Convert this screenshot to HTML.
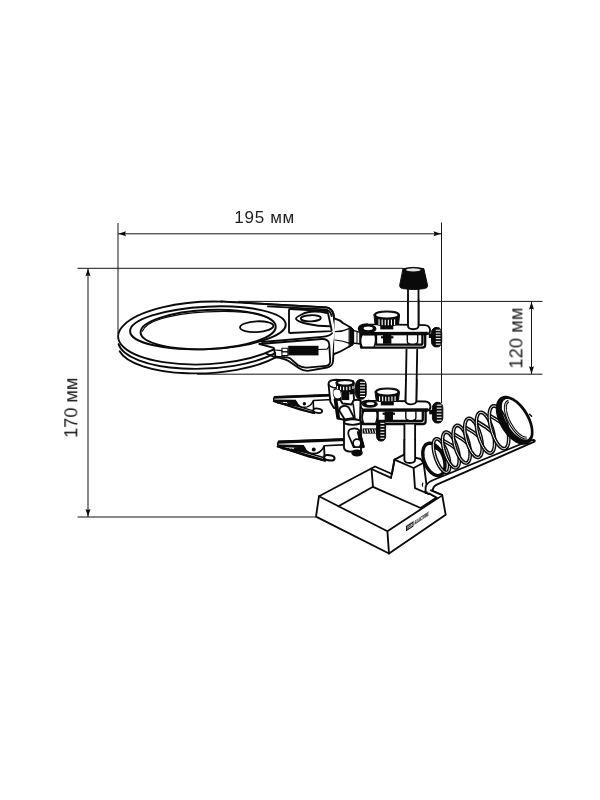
<!DOCTYPE html>
<html lang="ru"><head><meta charset="utf-8"><title>195 мм</title>
<style>
html,body{margin:0;padding:0;background:#fff;}
body{width:600px;height:800px;overflow:hidden;font-family:"Liberation Sans",sans-serif;}
svg{display:block}
</style></head><body>
<svg width="600" height="800" viewBox="0 0 600 800">
<defs><filter id="gray" x="-5%" y="-5%" width="110%" height="110%" color-interpolation-filters="sRGB"><feColorMatrix type="saturate" values="0"/></filter></defs>
<rect width="600" height="800" fill="#fff"/>
<g id="labels" filter="url(#gray)" font-family="Liberation Sans, sans-serif" font-size="17" fill="#1c1c1c">
<text x="234.3" y="223" textLength="60" lengthAdjust="spacing">195 мм</text>
<text font-size="18.3" transform="translate(77.3 437.9) rotate(-90)" textLength="60.4" lengthAdjust="spacing">170 мм</text>
<text font-size="18.3" transform="translate(522.4 368.6) rotate(-90)" textLength="61" lengthAdjust="spacing">120 мм</text>
</g>
<g id="drawing" fill="none" stroke="#0a0a0a" stroke-width="1.85" stroke-linecap="round" stroke-linejoin="round">
<path d="M222 301.6 L326.5 307.4 Q332.5 308.5 333.6 315 L335.8 330 L334 345 L333 361.5 Q332.5 366.5 327 367.5 L308 370.8 Q303 371 299.5 368.5 L289 361.2 Q284 358.4 275.6 357.4 L262 352 L240 340 Z" fill="#fff"/>
<ellipse cx="205" cy="333" rx="87" ry="31.3" transform="rotate(-2.6 205 333)" fill="#fff" stroke="none"/>
<path d="M221 301.5 L326.5 307.4 Q332.5 308.5 333.6 315 L335.8 330"/>
<path d="M268 306.3 L325 309.4 Q330.5 310.3 331.6 316"/>
<path d="M334.6 318.5 Q340 320 343.3 323.3 L350.8 327.5 Q352.5 329 352.5 330.8 L352.5 343.3 Q352.3 345 350.8 345.8 L343 350 Q339 352.5 334 354" fill="#fff"/>
<path d="M335.5 331.7 Q343 331.5 349 328.6 M335 340 Q343 340.5 350.5 343.6" stroke-width="1.2"/>
<path d="M349.4 326.6 L353.4 329.2 L353.4 344.4 L349.4 346.8 Z" fill="#0a0a0a" stroke-width="1"/>
<path d="M290 309 L326.5 311 Q327.6 311.1 327.8 312.2 L331.6 330 Q331.8 331 330.8 331.1 L290 333 Q289 333 289 332 L289 310 Q289 309 290 309 Z" fill="#fff"/>
<path d="M327.2 313 Q311 309.5 302 314.2 Q295.5 317.5 296 318.8 Q297 321.5 308 324 Q318 326.3 330.4 326.2"/>
<ellipse cx="310.8" cy="318.3" rx="10" ry="3.1" transform="rotate(-2 310.8 318.3)" fill="none"/>
<path d="M262 342 L322 336.8 Q330.5 336.3 332 333.2"/>
<path d="M259.5 344 L321.5 339 Q328.6 338.8 329.2 344 L330.2 361 Q330.2 365.5 326.2 365.9 L307 367.6 Q301.5 367.8 298 365.3 L290.5 358.6 Q288.5 357.2 285 357.2 L275.6 356.6"/>
<rect x="288.2" y="345.8" width="30.3" height="9.6" fill="#0a0a0a" stroke="none"/>
<rect x="281.9" y="348.2" width="6" height="3.7" stroke-width="1.1" fill="#fff"/><rect x="281.9" y="351.9" width="6" height="3.7" stroke-width="1.1" fill="#fff"/>
<path d="M318.5 349.5 L327 349.2 L329.5 346" stroke-width="1.2"/>
<path d="M275 350 L281.9 350.6" stroke-width="1.2"/>
<path d="M119.66 351.22 A87 31.3 -2.6 0 0 276.15 357.09"/>
<path d="M118.54 344.06 A87 31.3 -2.6 0 0 275.26 353.07"/>
<path d="M221.68 301.59 A87 31.3 -2.6 1 0 273.90 349.38"/>
<path d="M259.5 344 L273.8 347.9 L275.6 357.2" />
<ellipse cx="207.9" cy="327.85" rx="77.9" ry="21.2" transform="rotate(-2.6 207.9 327.85)" fill="#fff" stroke-width="2.0"/>
<ellipse cx="208.15" cy="329.5" rx="67.65" ry="19.5" transform="rotate(-2.6 208.15 329.5)" fill="#fff" stroke-width="2.0"/>
<path d="M142.3 331.2 Q149 315.6 206 311.9 Q263 309.2 274 322.6" stroke-width="1.2"/>
<ellipse cx="256.7" cy="326.7" rx="16.7" ry="5.4" transform="rotate(-3 256.7 326.7)" fill="none"/>
<path d="M408 286 L408 326.05 Q408 329.2 413.25 329.2 Q418.5 329.2 418.5 326.05 L418.5 286" fill="#fff"/>
<path d="M403.3 268.6 Q413.3 266 423.8 268.6 L427.6 285.5 Q427.8 288 424.5 288.6 Q413.5 290.6 402.5 288.6 Q399.4 288 399.7 285.5 Z" fill="#0a0a0a" stroke-width="1"/>
<ellipse cx="413.3" cy="269.9" rx="7.3" ry="1.55" fill="#e4e4e4" stroke="none"/>
<path d="M353.4 330.4 L360 332.4 L360 344 L353.4 343 Z" fill="#fff" stroke-width="1.5"/>
<path d="M357 331.6 L357 343.4" stroke-width="1"/>
<g transform="translate(0 0)">
<rect x="428.8" y="333.5" width="4" height="4.4" fill="#0a0a0a" stroke="none"/>
<rect x="431.5" y="327.5" width="10.2" height="19.4" rx="4.28" ry="5.10" fill="#0a0a0a" stroke="#0a0a0a" stroke-width="1"/>
<line x1="435.78" y1="330.25" x2="440.50" y2="330.25" stroke="#fff" stroke-width="1.05" stroke-linecap="butt"/>
<line x1="435.78" y1="333.03" x2="440.50" y2="333.03" stroke="#fff" stroke-width="1.05" stroke-linecap="butt"/>
<line x1="435.78" y1="335.81" x2="440.50" y2="335.81" stroke="#fff" stroke-width="1.05" stroke-linecap="butt"/>
<line x1="435.78" y1="338.59" x2="440.50" y2="338.59" stroke="#fff" stroke-width="1.05" stroke-linecap="butt"/>
<line x1="435.78" y1="341.37" x2="440.50" y2="341.37" stroke="#fff" stroke-width="1.05" stroke-linecap="butt"/>
<line x1="435.78" y1="344.15" x2="440.50" y2="344.15" stroke="#fff" stroke-width="1.05" stroke-linecap="butt"/>
<path d="M361 347.6 L422.3 347.6 Q425.2 347.6 425.2 345 L425.2 334 L422.40000000000003 334 L422.40000000000003 343.2 Q422.40000000000003 344.6 420.8 344.6 L376 344.6 L376 334 L361 334 Z" fill="#fff" stroke-width="2.3"/>
<path d="M362.2 334.5 Q359 341 362.2 347.2 L374 347.2 Q376.6 341 375 334.5 Z" fill="#fff" stroke-width="1.5"/>
<path d="M407.3 334.5 L407.3 341.4 Q407.3 344.2 412.5 344.2 Q417.7 344.2 417.7 341.4 L417.7 334.5" fill="#fff" stroke-width="1.4"/>
<rect x="383" y="335" width="8.4" height="8.8" fill="#0a0a0a" stroke="none"/>
<rect x="381" y="336.2" width="12.4" height="2.2" fill="#0a0a0a" stroke="none"/>
<path d="M360.3 325.8 Q357.6 328.2 359.6 331.2 Q361 333.6 364 334.2 L426.8 334.2 Q430.40000000000003 333.4 430.0 329.6 Q429.40000000000003 325.4 424.8 325.1 L368 324.2 Q363 324 360.3 325.8 Z" fill="#fff"/>
<path d="M361.5 333.6 L427.8 333.4" stroke-width="3.2" stroke-linecap="butt"/>
<ellipse cx="367.6" cy="328.7" rx="8.9" ry="4.6" fill="#0a0a0a" stroke="none"/>
<ellipse cx="368.20000000000005" cy="328.3" rx="4.6" ry="1.9" fill="#fff" stroke="none"/>
</g>
<path d="M408 300 L408 326.05 Q408 329.2 413.25 329.2 Q418.5 329.2 418.5 326.05 L418.5 300" fill="#fff"/>
<path d="M374.0 314.9 L375.0 323.9 Q386.8 329.0 398.6 323.9 L399.6 314.9 Q399.6 311.0 386.8 311.0 Q374.0 311.0 374.0 314.9 Z" fill="#0a0a0a" stroke-width="1"/>
<ellipse cx="386.8" cy="314.9" rx="10.799999999999999" ry="2.5" fill="#fff" stroke="none"/>
<line x1="379.05" y1="319.37" x2="379.05" y2="325.15" stroke="#fff" stroke-width="1.15" stroke-linecap="butt"/>
<line x1="382.15" y1="319.62" x2="382.15" y2="325.57" stroke="#fff" stroke-width="1.15" stroke-linecap="butt"/>
<line x1="385.25" y1="319.74" x2="385.25" y2="325.77" stroke="#fff" stroke-width="1.15" stroke-linecap="butt"/>
<line x1="388.35" y1="319.74" x2="388.35" y2="325.77" stroke="#fff" stroke-width="1.15" stroke-linecap="butt"/>
<line x1="391.45" y1="319.62" x2="391.45" y2="325.57" stroke="#fff" stroke-width="1.15" stroke-linecap="butt"/>
<line x1="394.55" y1="319.37" x2="394.55" y2="325.15" stroke="#fff" stroke-width="1.15" stroke-linecap="butt"/>
<rect x="380.3" y="325.4" width="13" height="4" fill="#0a0a0a" stroke="none"/>
<path d="M406.5 349.6 L405.6 401.09 Q405.6 404.3 410.95 404.3 Q416.3 404.3 416.3 401.09 L417.2 349.6" fill="#fff"/>
<g transform="translate(1.6 76.4)">
<rect x="427.6" y="333.5" width="4" height="4.4" fill="#0a0a0a" stroke="none"/>
<rect x="430.8" y="326" width="10.4" height="20.6" rx="4.37" ry="5.20" fill="#0a0a0a" stroke="#0a0a0a" stroke-width="1"/>
<line x1="435.17" y1="328.75" x2="440.00" y2="328.75" stroke="#fff" stroke-width="1.05" stroke-linecap="butt"/>
<line x1="435.17" y1="331.77" x2="440.00" y2="331.77" stroke="#fff" stroke-width="1.05" stroke-linecap="butt"/>
<line x1="435.17" y1="334.79" x2="440.00" y2="334.79" stroke="#fff" stroke-width="1.05" stroke-linecap="butt"/>
<line x1="435.17" y1="337.81" x2="440.00" y2="337.81" stroke="#fff" stroke-width="1.05" stroke-linecap="butt"/>
<line x1="435.17" y1="340.83" x2="440.00" y2="340.83" stroke="#fff" stroke-width="1.05" stroke-linecap="butt"/>
<line x1="435.17" y1="343.85" x2="440.00" y2="343.85" stroke="#fff" stroke-width="1.05" stroke-linecap="butt"/>
<path d="M361 347.6 L421.1 347.6 Q424.0 347.6 424.0 345 L424.0 334 L421.20000000000005 334 L421.20000000000005 343.2 Q421.20000000000005 344.6 419.6 344.6 L376 344.6 L376 334 L361 334 Z" fill="#fff" stroke-width="2.3"/>
<path d="M362.2 334.5 Q359 341 362.2 347.2 L374 347.2 Q376.6 341 375 334.5 Z" fill="#fff" stroke-width="1.5"/>
<path d="M404.2 334.5 L404.2 341.4 Q404.2 344.2 409.25 344.2 Q414.3 344.2 414.3 341.4 L414.3 334.5" fill="#fff" stroke-width="1.4"/>
<rect x="383" y="335" width="8.4" height="8.8" fill="#0a0a0a" stroke="none"/>
<rect x="381" y="336.2" width="12.4" height="2.2" fill="#0a0a0a" stroke="none"/>
<path d="M360.3 325.8 Q357.6 328.2 359.6 331.2 Q361 333.6 364 334.2 L425.6 334.2 Q429.20000000000005 333.4 428.8 329.6 Q428.20000000000005 325.4 423.6 325.1 L368 324.2 Q363 324 360.3 325.8 Z" fill="#fff"/>
<path d="M361.5 333.6 L426.6 333.4" stroke-width="3.2" stroke-linecap="butt"/>
<ellipse cx="368.2" cy="327.7" rx="8.0" ry="3.6" fill="#0a0a0a" stroke="none"/>
<ellipse cx="368.8" cy="327.3" rx="4.0" ry="1.4" fill="#fff" stroke="none"/>
</g>
<path d="M406.0 380 L405.6 401.09 Q405.6 404.3 410.95 404.3 Q416.3 404.3 416.3 401.09 L416.7 380" fill="#fff"/>
<path d="M375.09999999999997 391.9 L376.09999999999997 399.9 Q387.3 405.0 398.50000000000006 399.9 L399.50000000000006 391.9 Q399.50000000000006 388.0 387.3 388.0 Q375.09999999999997 388.0 375.09999999999997 391.9 Z" fill="#0a0a0a" stroke-width="1"/>
<ellipse cx="387.3" cy="391.9" rx="10.2" ry="2.5" fill="#fff" stroke="none"/>
<line x1="379.55" y1="396.33" x2="379.55" y2="401.09" stroke="#fff" stroke-width="1.15" stroke-linecap="butt"/>
<line x1="382.65" y1="396.61" x2="382.65" y2="401.54" stroke="#fff" stroke-width="1.15" stroke-linecap="butt"/>
<line x1="385.75" y1="396.74" x2="385.75" y2="401.77" stroke="#fff" stroke-width="1.15" stroke-linecap="butt"/>
<line x1="388.85" y1="396.74" x2="388.85" y2="401.77" stroke="#fff" stroke-width="1.15" stroke-linecap="butt"/>
<line x1="391.95" y1="396.61" x2="391.95" y2="401.54" stroke="#fff" stroke-width="1.15" stroke-linecap="butt"/>
<line x1="395.05" y1="396.33" x2="395.05" y2="401.09" stroke="#fff" stroke-width="1.15" stroke-linecap="butt"/>
<rect x="380.8" y="401.4" width="13" height="4" fill="#0a0a0a" stroke="none"/>
<path d="M404.4 424.4 L404.4 459.79 Q404.4 463 409.75 463 Q415.1 463 415.1 459.79 L415.1 424.4" fill="#fff"/>
<g>
<path d="M273.7 401.2 L280 402.9 L296.4 405.9 L312.6 410.6 L314.2 413.2 L300 409.8 Z" fill="#fff" stroke-width="1.4"/>
<path d="M273.7 401.2 L314.2 413.2" stroke-width="1.9"/>
<path d="M276.5 402.1 L278 403.3 L279.5 402.5 L281 403.8 L282.5 403 L284 404.2 L285.5 403.4 L287 404.6 L288.5 403.8" stroke-width="1.3"/>
<path d="M287.6 402.4 L296.2 401.6 Q297 404 298.8 406.2 L290 404.6 Z" fill="#0a0a0a" stroke-width="1"/>
<ellipse cx="317.7" cy="410.8" rx="4.5" ry="2.2" transform="rotate(8 317.7 410.8)" fill="#fff" stroke-width="1.8"/>
<path d="M313.2 400.9 L313.6 409.3" stroke-width="1.6"/>
<path d="M274.4 396.9 L333 394.8 L333 399.5 L313.3 400.5 Q311.6 405.3 307.2 406.8 Q303.6 407.8 300.2 406.3 Q297 404.4 296 401.3 L274.4 401 Q272.8 399 274.4 396.9 Z" fill="#fff" stroke-width="1.4"/>
<path d="M274 397.4 L333 395.2" stroke-width="2.7" stroke-linecap="butt"/>
<path d="M274.2 400.5 L296 400.9" stroke-width="2.1" stroke-linecap="butt"/>
<circle cx="304.4" cy="403.7" r="1.7" fill="#0a0a0a" stroke="none"/>
</g>
<g transform="translate(277.3 443.75) scale(1.17) translate(-273.25 -398.8)">
<path d="M273.7 401.2 L280 402.9 L296.4 405.9 L312.6 410.6 L314.2 413.2 L300 409.8 Z" fill="#fff" stroke-width="1.4"/>
<path d="M273.7 401.2 L314.2 413.2" stroke-width="1.9"/>
<path d="M276.5 402.1 L278 403.3 L279.5 402.5 L281 403.8 L282.5 403 L284 404.2 L285.5 403.4 L287 404.6 L288.5 403.8" stroke-width="1.3"/>
<path d="M287.6 402.4 L296.2 401.6 Q297 404 298.8 406.2 L290 404.6 Z" fill="#0a0a0a" stroke-width="1"/>
<ellipse cx="317.7" cy="410.8" rx="4.5" ry="2.2" transform="rotate(8 317.7 410.8)" fill="#fff" stroke-width="1.8"/>
<path d="M313.2 400.9 L313.6 409.3" stroke-width="1.6"/>
<path d="M274.4 396.9 L333 394.8 L333 399.5 L313.3 400.5 Q311.6 405.3 307.2 406.8 Q303.6 407.8 300.2 406.3 Q297 404.4 296 401.3 L274.4 401 Q272.8 399 274.4 396.9 Z" fill="#fff" stroke-width="1.4"/>
<path d="M274 397.4 L333 395.2" stroke-width="2.7" stroke-linecap="butt"/>
<path d="M274.2 400.5 L296 400.9" stroke-width="2.1" stroke-linecap="butt"/>
<circle cx="304.4" cy="403.7" r="1.7" fill="#0a0a0a" stroke="none"/>
</g>
<path d="M328.5 384 Q328.3 380 336 379.7 L353 381 L354 400 L352 407 L334 408 L330.4 402 Z" fill="#fff" stroke-width="1.9"/>
<path d="M328.6 384.5 Q331 388 337 388" stroke-width="1.4"/>
<path d="M336 388 L354.5 388 L354.8 394 L349.5 394.6 L349.5 392 L341.5 392 L341.5 400 Q338 402 334.6 399 Q331.8 394 333.4 389.6 Z" fill="#0a0a0a" stroke="none"/>
<path d="M333.6 390.8 Q336.5 388.6 340.2 390.4 L341.2 396.4 Q339 399.4 335.6 398 Q332.6 394.6 333.6 390.8 Z" fill="#fff" stroke="none"/>
<rect x="341.6" y="390.5" width="7.6" height="9.6" fill="#0a0a0a" stroke="none"/>
<path d="M334.6 399.5 Q336 409 337.4 418.6 L343 419.4 L345 421 L360 421.6 L360.6 400.6 Q357 399 353.6 400.4 L351.6 404.4 L342.5 403.6 L340.4 400 Z" fill="#fff" stroke-width="2"/>
<path d="M336.2 400 L338.8 418" stroke-width="2.6"/>
<path d="M353.2 404 L355 419" stroke-width="1.6"/>
<path d="M339.6 411.2 Q339 406.6 343.6 406 Q348 405.6 349.4 408.6 L354.2 418 L344.8 419.4 Z" fill="#fff" stroke-width="1.8"/>
<rect x="355.6" y="379.6" width="10.6" height="19.6" rx="4.45" ry="5.30" fill="#0a0a0a" stroke="#0a0a0a" stroke-width="1"/>
<line x1="360.05" y1="382.35" x2="365.00" y2="382.35" stroke="#fff" stroke-width="1.05" stroke-linecap="butt"/>
<line x1="360.05" y1="385.17" x2="365.00" y2="385.17" stroke="#fff" stroke-width="1.05" stroke-linecap="butt"/>
<line x1="360.05" y1="387.99" x2="365.00" y2="387.99" stroke="#fff" stroke-width="1.05" stroke-linecap="butt"/>
<line x1="360.05" y1="390.81" x2="365.00" y2="390.81" stroke="#fff" stroke-width="1.05" stroke-linecap="butt"/>
<line x1="360.05" y1="393.63" x2="365.00" y2="393.63" stroke="#fff" stroke-width="1.05" stroke-linecap="butt"/>
<line x1="360.05" y1="396.45" x2="365.00" y2="396.45" stroke="#fff" stroke-width="1.05" stroke-linecap="butt"/>
<path d="M335.99999999999994 382.7 L336.99999999999994 388.5 Q345.2 393.6 353.40000000000003 388.5 L354.40000000000003 382.7 Q354.40000000000003 379.6 345.2 379.6 Q335.99999999999994 379.6 335.99999999999994 382.7 Z" fill="#0a0a0a" stroke-width="1"/>
<ellipse cx="345.2" cy="382.7" rx="7.199999999999999" ry="1.7000000000000002" fill="#fff" stroke="none"/>
<line x1="337.45" y1="385.98" x2="337.45" y2="389.10" stroke="#fff" stroke-width="1.15" stroke-linecap="butt"/>
<line x1="340.55" y1="386.48" x2="340.55" y2="389.93" stroke="#fff" stroke-width="1.15" stroke-linecap="butt"/>
<line x1="343.65" y1="386.73" x2="343.65" y2="390.35" stroke="#fff" stroke-width="1.15" stroke-linecap="butt"/>
<line x1="346.75" y1="386.73" x2="346.75" y2="390.35" stroke="#fff" stroke-width="1.15" stroke-linecap="butt"/>
<line x1="349.85" y1="386.48" x2="349.85" y2="389.93" stroke="#fff" stroke-width="1.15" stroke-linecap="butt"/>
<line x1="352.95" y1="385.98" x2="352.95" y2="389.10" stroke="#fff" stroke-width="1.15" stroke-linecap="butt"/>
<rect x="362.6" y="428.4" width="14.4" height="5.2" fill="#0a0a0a" stroke="none"/>
<line x1="364.4" y1="429.3" x2="365.3" y2="432.9" stroke="#fff" stroke-width="1" stroke-linecap="butt"/>
<line x1="367.0" y1="429.3" x2="367.9" y2="432.9" stroke="#fff" stroke-width="1" stroke-linecap="butt"/>
<line x1="369.6" y1="429.3" x2="370.5" y2="432.9" stroke="#fff" stroke-width="1" stroke-linecap="butt"/>
<line x1="372.2" y1="429.3" x2="373.1" y2="432.9" stroke="#fff" stroke-width="1" stroke-linecap="butt"/>
<line x1="374.8" y1="429.3" x2="375.7" y2="432.9" stroke="#fff" stroke-width="1" stroke-linecap="butt"/>
<rect x="376.6" y="420.6" width="9" height="20.4" rx="3.78" ry="4.50" fill="#0a0a0a" stroke="#0a0a0a" stroke-width="1"/>
<line x1="380.38" y1="423.35" x2="384.40" y2="423.35" stroke="#fff" stroke-width="1.05" stroke-linecap="butt"/>
<line x1="380.38" y1="426.33" x2="384.40" y2="426.33" stroke="#fff" stroke-width="1.05" stroke-linecap="butt"/>
<line x1="380.38" y1="429.31" x2="384.40" y2="429.31" stroke="#fff" stroke-width="1.05" stroke-linecap="butt"/>
<line x1="380.38" y1="432.29" x2="384.40" y2="432.29" stroke="#fff" stroke-width="1.05" stroke-linecap="butt"/>
<line x1="380.38" y1="435.27" x2="384.40" y2="435.27" stroke="#fff" stroke-width="1.05" stroke-linecap="butt"/>
<line x1="380.38" y1="438.25" x2="384.40" y2="438.25" stroke="#fff" stroke-width="1.05" stroke-linecap="butt"/>
<path d="M344 422 L344 448 Q344.6 451.2 350 451.6 L361 451 L361 422 Z" fill="#fff"/>
<ellipse cx="352.5" cy="422" rx="8.5" ry="2.8" fill="#fff"/>
<ellipse cx="357" cy="453" rx="5.8" ry="3.4" fill="#0a0a0a" stroke="none"/>
<path d="M348.6 435.4 Q347.2 430 351.6 428.8 Q356.6 427.6 359.6 430.4 L364 447 L353.6 447.2 Z" fill="#fff" stroke-width="1.7"/>
<path d="M359.8 430.6 L364 447 L361 448.4 L357.4 432 Z" fill="#0a0a0a" stroke-width="1"/>
<circle cx="357" cy="443.2" r="4" fill="#fff" stroke-width="1.8"/>
<path d="M319 496.2 L375 466.5 L392 474 L394.5 459.6 L404 454.6 L420.5 459 L423.6 462.8 L426.4 484 L431 490.3 L442.2 495.2 L445.7 514.8 L389 553.5 L316 516.7 Z" fill="#fff"/>
<path d="M394.5 459.6 L413.6 468 L423.6 462.8" />
<path d="M413.6 468 L415 488.2 L428.6 494"/>
<path d="M391 477.8 L394.5 459.6"/>
<path d="M371.5 469 L391 477.8"/>
<path d="M371.5 469 L373 486.8 M338.5 506.2 L373 486.8 L420.6 508 L436.5 497.5 L429.3 493.5"/>
<path d="M319 496.2 L387.4 531.2 L442.2 495.2 M387.4 531.2 L389 553.5"/>
<path d="M422.9 483.2 Q421.8 484.6 422.6 486.2" stroke-width="1.2"/>
<path d="M404.4 440 L404.4 459.79 Q404.4 463 409.75 463 Q415.1 463 415.1 459.79 L415.1 440" fill="#fff"/>
<g transform="matrix(0.8355 -0.5494 0 1 406 531.4)" stroke="none" filter="url(#gray)">
<rect x="0" y="-5.4" width="9.2" height="5.4" fill="#0a0a0a"/>
<text x="4.6" y="-1.1" font-family="Liberation Sans, sans-serif" font-weight="700" font-style="italic" font-size="4.3" fill="#fff" text-anchor="middle" textLength="7.6" lengthAdjust="spacingAndGlyphs">TDM</text>
<text x="10.4" y="-0.6" font-family="Liberation Sans, sans-serif" font-weight="700" font-style="italic" font-size="5.5" fill="#0a0a0a" stroke="#0a0a0a" stroke-width="0.25" textLength="16.8" lengthAdjust="spacingAndGlyphs">ELECTRIC</text>
</g>
<path d="M425.6 493 L425.6 488 Q425.6 483.2 433.3 480 L520 444.5 Q530 440.2 533.6 439.9 Q535.6 440.6 534.4 441.7 L437.3 484.4 Q432.7 486.4 432.7 491 Z" fill="#fff"/>
<path d="M424.6 492.6 L431 490.3 L442.2 495.2 L436.5 497.5 L429.3 493.5 Z" fill="#fff" stroke="none"/>
<path d="M431 490.3 L442.2 495.2 M436.5 497.5 L429.3 493.5 M425 491.5 L428.6 494"/>
<path d="M440.27 475.16 L441.40 474.55 L442.40 473.67 L443.26 472.56 L443.96 471.21 L444.48 469.67 L444.83 467.95 L444.99 466.08 L444.95 464.10 L444.73 462.04 L444.33 459.93 L443.74 457.82 L442.99 455.73 L442.08 453.70 L441.03 451.77 L439.86 449.98 L438.58 448.34 L437.23 446.89 L435.82 445.66 L434.38 444.66 L432.93 443.91 L431.49 443.43 L430.10 443.22 L428.77 443.29 L427.53 443.64 L426.40 444.25 L425.40 445.13 L424.54 446.24 L423.84 447.59 L423.32 449.13 L422.97 450.85 L422.81 452.72 L422.85 454.70 L423.07 456.76 L423.47 458.87 L424.06 460.98 L424.81 463.07 L425.72 465.10 L426.77 467.03 L427.94 468.82 L429.22 470.46 L430.57 471.91 L431.98 473.14 L433.42 474.14 L434.87 474.89 L436.31 475.37 L437.70 475.58 L439.03 475.51 L440.27 475.16 Z" stroke-width="3.4"/>
<path d="M433.74 446.69 Q442.19 450.73 448.03 455.64" stroke-width="3.2"/>
<path d="M447.08 472.29 L447.82 471.89 L448.44 471.20 L448.95 470.26 L449.32 469.05 L449.57 467.62 L449.67 465.99 L449.64 464.17 L449.47 462.21 L449.16 460.14 L448.72 457.99 L448.15 455.80 L447.47 453.60 L446.69 451.44 L445.83 449.35 L444.88 447.37 L443.88 445.52 L442.84 443.85 L441.78 442.38 L440.71 441.14 L439.65 440.15 L438.63 439.42 L437.65 438.96 L436.74 438.79 L435.92 438.91 L435.18 439.31 L434.56 440.00 L434.05 440.94 L433.68 442.15 L433.43 443.58 L433.33 445.21 L433.36 447.03 L433.53 448.99 L433.84 451.06 L434.28 453.21 L434.85 455.40 L435.53 457.60 L436.31 459.76 L437.17 461.85 L438.12 463.83 L439.12 465.68 L440.16 467.35 L441.22 468.82 L442.29 470.06 L443.35 471.05 L444.37 471.78 L445.35 472.24 L446.26 472.41 L447.08 472.29 Z" stroke-width="3.75" stroke-linecap="butt"/>
<path d="M447.08 472.29 L447.82 471.89 L448.44 471.20 L448.95 470.26 L449.32 469.05 L449.57 467.62 L449.67 465.99 L449.64 464.17 L449.47 462.21 L449.16 460.14 L448.72 457.99 L448.15 455.80 L447.47 453.60 L446.69 451.44 L445.83 449.35 L444.88 447.37 L443.88 445.52 L442.84 443.85 L441.78 442.38 L440.71 441.14 L439.65 440.15 L438.63 439.42 L437.65 438.96 L436.74 438.79 L435.92 438.91 L435.18 439.31 L434.56 440.00 L434.05 440.94 L433.68 442.15 L433.43 443.58 L433.33 445.21 L433.36 447.03 L433.53 448.99 L433.84 451.06 L434.28 453.21 L434.85 455.40 L435.53 457.60 L436.31 459.76 L437.17 461.85 L438.12 463.83 L439.12 465.68 L440.16 467.35 L441.22 468.82 L442.29 470.06 L443.35 471.05 L444.37 471.78 L445.35 472.24 L446.26 472.41 L447.08 472.29 Z" stroke="#fff" stroke-width="1.0" stroke-linecap="butt"/>
<path d="M442.92 440.38 Q451.78 444.87 457.83 450.21" stroke-width="3.75" stroke-linecap="butt"/>
<path d="M442.92 440.38 Q451.78 444.87 457.83 450.21" stroke="#fff" stroke-width="1.0" stroke-linecap="butt"/>
<path d="M456.34 467.79 L457.13 467.38 L457.81 466.67 L458.38 465.68 L458.81 464.42 L459.11 462.92 L459.28 461.19 L459.29 459.27 L459.17 457.20 L458.90 455.00 L458.50 452.71 L457.96 450.38 L457.31 448.04 L456.54 445.74 L455.68 443.50 L454.74 441.38 L453.73 439.41 L452.67 437.62 L451.59 436.04 L450.49 434.70 L449.39 433.62 L448.33 432.82 L447.31 432.31 L446.34 432.11 L445.46 432.21 L444.67 432.62 L443.99 433.33 L443.42 434.32 L442.99 435.58 L442.69 437.08 L442.52 438.81 L442.51 440.73 L442.63 442.80 L442.90 445.00 L443.30 447.29 L443.84 449.62 L444.49 451.96 L445.26 454.26 L446.12 456.50 L447.06 458.62 L448.07 460.59 L449.13 462.38 L450.21 463.96 L451.31 465.30 L452.41 466.38 L453.47 467.18 L454.49 467.69 L455.46 467.89 L456.34 467.79 Z" stroke-width="3.75" stroke-linecap="butt"/>
<path d="M456.34 467.79 L457.13 467.38 L457.81 466.67 L458.38 465.68 L458.81 464.42 L459.11 462.92 L459.28 461.19 L459.29 459.27 L459.17 457.20 L458.90 455.00 L458.50 452.71 L457.96 450.38 L457.31 448.04 L456.54 445.74 L455.68 443.50 L454.74 441.38 L453.73 439.41 L452.67 437.62 L451.59 436.04 L450.49 434.70 L449.39 433.62 L448.33 432.82 L447.31 432.31 L446.34 432.11 L445.46 432.21 L444.67 432.62 L443.99 433.33 L443.42 434.32 L442.99 435.58 L442.69 437.08 L442.52 438.81 L442.51 440.73 L442.63 442.80 L442.90 445.00 L443.30 447.29 L443.84 449.62 L444.49 451.96 L445.26 454.26 L446.12 456.50 L447.06 458.62 L448.07 460.59 L449.13 462.38 L450.21 463.96 L451.31 465.30 L452.41 466.38 L453.47 467.18 L454.49 467.69 L455.46 467.89 L456.34 467.79 Z" stroke="#fff" stroke-width="1.0" stroke-linecap="butt"/>
<path d="M453.65 433.90 Q462.85 438.87 469.02 444.65" stroke-width="3.75" stroke-linecap="butt"/>
<path d="M453.65 433.90 Q462.85 438.87 469.02 444.65" stroke="#fff" stroke-width="1.0" stroke-linecap="butt"/>
<path d="M466.72 462.94 L467.57 462.54 L468.32 461.82 L468.96 460.81 L469.48 459.51 L469.86 457.95 L470.10 456.15 L470.20 454.15 L470.15 451.98 L469.96 449.67 L469.62 447.28 L469.15 444.82 L468.56 442.36 L467.84 439.93 L467.02 437.57 L466.11 435.33 L465.13 433.24 L464.08 431.33 L463.00 429.65 L461.89 428.21 L460.78 427.05 L459.69 426.18 L458.62 425.62 L457.62 425.38 L456.68 425.46 L455.83 425.86 L455.07 426.58 L454.44 427.59 L453.92 428.89 L453.54 430.45 L453.30 432.25 L453.20 434.25 L453.25 436.42 L453.44 438.73 L453.78 441.12 L454.25 443.58 L454.84 446.04 L455.56 448.47 L456.38 450.82 L457.29 453.07 L458.27 455.16 L459.32 457.07 L460.40 458.75 L461.51 460.19 L462.62 461.35 L463.71 462.22 L464.78 462.78 L465.78 463.02 L466.72 462.94 Z" stroke-width="3.75" stroke-linecap="butt"/>
<path d="M466.72 462.94 L467.57 462.54 L468.32 461.82 L468.96 460.81 L469.48 459.51 L469.86 457.95 L470.10 456.15 L470.20 454.15 L470.15 451.98 L469.96 449.67 L469.62 447.28 L469.15 444.82 L468.56 442.36 L467.84 439.93 L467.02 437.57 L466.11 435.33 L465.13 433.24 L464.08 431.33 L463.00 429.65 L461.89 428.21 L460.78 427.05 L459.69 426.18 L458.62 425.62 L457.62 425.38 L456.68 425.46 L455.83 425.86 L455.07 426.58 L454.44 427.59 L453.92 428.89 L453.54 430.45 L453.30 432.25 L453.20 434.25 L453.25 436.42 L453.44 438.73 L453.78 441.12 L454.25 443.58 L454.84 446.04 L455.56 448.47 L456.38 450.82 L457.29 453.07 L458.27 455.16 L459.32 457.07 L460.40 458.75 L461.51 460.19 L462.62 461.35 L463.71 462.22 L464.78 462.78 L465.78 463.02 L466.72 462.94 Z" stroke="#fff" stroke-width="1.0" stroke-linecap="butt"/>
<path d="M465.17 427.21 Q474.72 432.38 481.13 438.38" stroke-width="3.75" stroke-linecap="butt"/>
<path d="M465.17 427.21 Q474.72 432.38 481.13 438.38" stroke="#fff" stroke-width="1.0" stroke-linecap="butt"/>
<path d="M478.63 457.33 L479.52 456.92 L480.31 456.18 L480.98 455.13 L481.52 453.78 L481.93 452.17 L482.19 450.30 L482.30 448.23 L482.26 445.98 L482.07 443.59 L481.74 441.10 L481.26 438.56 L480.65 436.01 L479.92 433.49 L479.08 431.04 L478.15 428.72 L477.13 426.55 L476.05 424.57 L474.93 422.82 L473.78 421.33 L472.63 420.13 L471.49 419.22 L470.39 418.64 L469.34 418.39 L468.37 418.47 L467.48 418.88 L466.69 419.62 L466.02 420.67 L465.48 422.02 L465.07 423.63 L464.81 425.50 L464.70 427.57 L464.74 429.82 L464.93 432.21 L465.26 434.70 L465.74 437.24 L466.35 439.79 L467.08 442.31 L467.92 444.76 L468.85 447.08 L469.87 449.25 L470.95 451.23 L472.07 452.98 L473.22 454.47 L474.37 455.67 L475.51 456.58 L476.61 457.16 L477.66 457.41 L478.63 457.33 Z" stroke-width="3.75" stroke-linecap="butt"/>
<path d="M478.63 457.33 L479.52 456.92 L480.31 456.18 L480.98 455.13 L481.52 453.78 L481.93 452.17 L482.19 450.30 L482.30 448.23 L482.26 445.98 L482.07 443.59 L481.74 441.10 L481.26 438.56 L480.65 436.01 L479.92 433.49 L479.08 431.04 L478.15 428.72 L477.13 426.55 L476.05 424.57 L474.93 422.82 L473.78 421.33 L472.63 420.13 L471.49 419.22 L470.39 418.64 L469.34 418.39 L468.37 418.47 L467.48 418.88 L466.69 419.62 L466.02 420.67 L465.48 422.02 L465.07 423.63 L464.81 425.50 L464.70 427.57 L464.74 429.82 L464.93 432.21 L465.26 434.70 L465.74 437.24 L466.35 439.79 L467.08 442.31 L467.92 444.76 L468.85 447.08 L469.87 449.25 L470.95 451.23 L472.07 452.98 L473.22 454.47 L474.37 455.67 L475.51 456.58 L476.61 457.16 L477.66 457.41 L478.63 457.33 Z" stroke="#fff" stroke-width="1.0" stroke-linecap="butt"/>
<path d="M476.83 421.51 Q486.77 426.94 493.44 433.22" stroke-width="3.75" stroke-linecap="butt"/>
<path d="M476.83 421.51 Q486.77 426.94 493.44 433.22" stroke="#fff" stroke-width="1.0" stroke-linecap="butt"/>
<path d="M490.83 453.01 L491.76 452.58 L492.58 451.81 L493.27 450.72 L493.84 449.31 L494.26 447.63 L494.53 445.68 L494.65 443.52 L494.61 441.16 L494.42 438.67 L494.07 436.07 L493.58 433.41 L492.95 430.75 L492.19 428.11 L491.31 425.56 L490.34 423.12 L489.29 420.85 L488.16 418.78 L487.00 416.96 L485.81 415.40 L484.61 414.13 L483.43 413.19 L482.28 412.57 L481.19 412.31 L480.17 412.39 L479.24 412.82 L478.42 413.59 L477.73 414.68 L477.16 416.09 L476.74 417.77 L476.47 419.72 L476.35 421.88 L476.39 424.24 L476.58 426.73 L476.93 429.33 L477.42 431.99 L478.05 434.65 L478.81 437.29 L479.69 439.84 L480.66 442.28 L481.71 444.55 L482.84 446.62 L484.00 448.44 L485.19 450.00 L486.39 451.27 L487.57 452.21 L488.72 452.83 L489.81 453.09 L490.83 453.01 Z" stroke-width="3.75" stroke-linecap="butt"/>
<path d="M490.83 453.01 L491.76 452.58 L492.58 451.81 L493.27 450.72 L493.84 449.31 L494.26 447.63 L494.53 445.68 L494.65 443.52 L494.61 441.16 L494.42 438.67 L494.07 436.07 L493.58 433.41 L492.95 430.75 L492.19 428.11 L491.31 425.56 L490.34 423.12 L489.29 420.85 L488.16 418.78 L487.00 416.96 L485.81 415.40 L484.61 414.13 L483.43 413.19 L482.28 412.57 L481.19 412.31 L480.17 412.39 L479.24 412.82 L478.42 413.59 L477.73 414.68 L477.16 416.09 L476.74 417.77 L476.47 419.72 L476.35 421.88 L476.39 424.24 L476.58 426.73 L476.93 429.33 L477.42 431.99 L478.05 434.65 L478.81 437.29 L479.69 439.84 L480.66 442.28 L481.71 444.55 L482.84 446.62 L484.00 448.44 L485.19 450.00 L486.39 451.27 L487.57 452.21 L488.72 452.83 L489.81 453.09 L490.83 453.01 Z" stroke="#fff" stroke-width="1.0" stroke-linecap="butt"/>
<path d="M489.74 415.64 Q500.27 421.22 507.36 427.75" stroke-width="3.75" stroke-linecap="butt"/>
<path d="M489.74 415.64 Q500.27 421.22 507.36 427.75" stroke="#fff" stroke-width="1.0" stroke-linecap="butt"/>
<path d="M504.87 448.61 L505.84 448.14 L506.69 447.32 L507.41 446.16 L507.99 444.68 L508.41 442.89 L508.67 440.84 L508.77 438.56 L508.70 436.09 L508.46 433.47 L508.06 430.74 L507.51 427.95 L506.81 425.15 L505.98 422.39 L505.02 419.71 L503.97 417.16 L502.83 414.78 L501.62 412.62 L500.37 410.71 L499.10 409.09 L497.82 407.77 L496.57 406.79 L495.35 406.16 L494.20 405.90 L493.13 405.99 L492.16 406.46 L491.31 407.28 L490.59 408.44 L490.01 409.92 L489.59 411.71 L489.33 413.76 L489.23 416.04 L489.30 418.51 L489.54 421.13 L489.94 423.86 L490.49 426.65 L491.19 429.45 L492.02 432.21 L492.98 434.89 L494.03 437.44 L495.17 439.82 L496.38 441.98 L497.63 443.89 L498.90 445.51 L500.18 446.83 L501.43 447.81 L502.65 448.44 L503.80 448.70 L504.87 448.61 Z" stroke-width="3.75" stroke-linecap="butt"/>
<path d="M504.87 448.61 L505.84 448.14 L506.69 447.32 L507.41 446.16 L507.99 444.68 L508.41 442.89 L508.67 440.84 L508.77 438.56 L508.70 436.09 L508.46 433.47 L508.06 430.74 L507.51 427.95 L506.81 425.15 L505.98 422.39 L505.02 419.71 L503.97 417.16 L502.83 414.78 L501.62 412.62 L500.37 410.71 L499.10 409.09 L497.82 407.77 L496.57 406.79 L495.35 406.16 L494.20 405.90 L493.13 405.99 L492.16 406.46 L491.31 407.28 L490.59 408.44 L490.01 409.92 L489.59 411.71 L489.33 413.76 L489.23 416.04 L489.30 418.51 L489.54 421.13 L489.94 423.86 L490.49 426.65 L491.19 429.45 L492.02 432.21 L492.98 434.89 L494.03 437.44 L495.17 439.82 L496.38 441.98 L497.63 443.89 L498.90 445.51 L500.18 446.83 L501.43 447.81 L502.65 448.44 L503.80 448.70 L504.87 448.61 Z" stroke="#fff" stroke-width="1.0" stroke-linecap="butt"/>
<path fill-rule="evenodd" fill="#0a0a0a" stroke-width="1.5" d="M528.04 442.99 L529.05 442.27 L529.96 441.39 L530.75 440.35 L531.41 439.15 L531.95 437.81 L532.36 436.34 L532.63 434.75 L532.76 433.05 L532.76 431.25 L532.62 429.36 L532.34 427.41 L531.93 425.41 L531.39 423.37 L530.71 421.30 L529.92 419.23 L529.01 417.16 L527.99 415.12 L526.87 413.12 L525.66 411.18 L524.36 409.30 L522.99 407.51 L521.56 405.82 L520.07 404.23 L518.54 402.77 L516.98 401.44 L515.41 400.26 L513.83 399.23 L512.25 398.36 L510.69 397.66 L509.17 397.13 L507.68 396.78 L506.25 396.61 L504.88 396.61 L503.59 396.80 L502.38 397.17 L501.26 397.71 L500.25 398.43 L499.34 399.31 L498.55 400.35 L497.89 401.55 L497.35 402.89 L496.94 404.36 L496.67 405.95 L496.54 407.65 L496.54 409.45 L496.68 411.34 L496.96 413.29 L497.37 415.29 L497.91 417.33 L498.59 419.40 L499.38 421.47 L500.29 423.54 L501.31 425.58 L502.43 427.58 L503.64 429.52 L504.94 431.40 L506.31 433.19 L507.74 434.88 L509.23 436.47 L510.76 437.93 L512.32 439.26 L513.89 440.44 L515.47 441.47 L517.05 442.34 L518.61 443.04 L520.13 443.57 L521.62 443.92 L523.05 444.09 L524.42 444.09 L525.71 443.90 L526.92 443.53 Z M528.38 439.65 L529.16 439.08 L529.83 438.37 L530.40 437.52 L530.87 436.52 L531.22 435.40 L531.47 434.15 L531.59 432.79 L531.60 431.33 L531.50 429.77 L531.28 428.14 L530.95 426.44 L530.50 424.68 L529.95 422.89 L529.30 421.07 L528.54 419.23 L527.70 417.40 L526.76 415.57 L525.75 413.78 L524.67 412.03 L523.52 410.34 L522.32 408.71 L521.08 407.17 L519.80 405.72 L518.49 404.37 L517.17 403.14 L515.84 402.02 L514.51 401.04 L513.20 400.20 L511.91 399.51 L510.66 398.97 L509.45 398.58 L508.29 398.35 L507.20 398.27 L506.17 398.36 L505.22 398.61 L504.36 399.02 L503.59 399.58 L502.91 400.29 L502.34 401.15 L501.87 402.14 L501.52 403.27 L501.28 404.51 L501.15 405.87 L501.14 407.34 L501.24 408.89 L501.46 410.53 L501.80 412.23 L502.24 413.98 L502.79 415.78 L503.45 417.60 L504.20 419.43 L505.05 421.27 L505.98 423.09 L506.99 424.88 L508.07 426.63 L509.22 428.32 L510.42 429.95 L511.66 431.49 L512.95 432.95 L514.25 434.29 L515.58 435.53 L516.91 436.64 L518.23 437.62 L519.54 438.46 L520.83 439.15 L522.08 439.70 L523.29 440.09 L524.45 440.32 L525.55 440.39 L526.57 440.30 L527.52 440.05 Z"/>
<path d="M508.70 401.20 L508.17 401.38 L507.68 401.64 L507.23 401.98 L506.83 402.39 L506.47 402.87 L506.16 403.42 L505.90 404.04 L505.68 404.72 L505.52 405.47 L505.41 406.27 L505.36 407.13 L505.35 408.05 L505.40 409.01 L505.50 410.01 L505.65 411.06 L505.85 412.14 L506.11 413.25 L506.41 414.38 L506.76 415.54 L507.15 416.72 L507.59 417.91 L508.08 419.10 L508.60 420.30 L509.17 421.49 L509.77 422.68 L510.40 423.85 L511.07 425.00 L511.76 426.14 L512.48 427.24 L513.22 428.31 L513.98 429.35 L514.76 430.34 L515.55 431.29 L516.35 432.19 L517.15 433.04 L517.96 433.83 L518.77 434.56 L519.58 435.22 L520.37 435.83 L521.16 436.36 L521.93 436.82 L522.69 437.21 L523.42 437.53 L524.14 437.77 L524.82 437.94 L525.48 438.03 L526.10 438.04 L526.69 437.97" stroke-width="3.0" stroke-linecap="butt"/>
<path d="M508.70 401.20 L508.17 401.38 L507.68 401.64 L507.23 401.98 L506.83 402.39 L506.47 402.87 L506.16 403.42 L505.90 404.04 L505.68 404.72 L505.52 405.47 L505.41 406.27 L505.36 407.13 L505.35 408.05 L505.40 409.01 L505.50 410.01 L505.65 411.06 L505.85 412.14 L506.11 413.25 L506.41 414.38 L506.76 415.54 L507.15 416.72 L507.59 417.91 L508.08 419.10 L508.60 420.30 L509.17 421.49 L509.77 422.68 L510.40 423.85 L511.07 425.00 L511.76 426.14 L512.48 427.24 L513.22 428.31 L513.98 429.35 L514.76 430.34 L515.55 431.29 L516.35 432.19 L517.15 433.04 L517.96 433.83 L518.77 434.56 L519.58 435.22 L520.37 435.83 L521.16 436.36 L521.93 436.82 L522.69 437.21 L523.42 437.53 L524.14 437.77 L524.82 437.94 L525.48 438.03 L526.10 438.04 L526.69 437.97" stroke="#fff" stroke-width="1.0" stroke-linecap="butt"/>
<path d="M529.6 414.2 L531.6 416.2" stroke-width="1.4"/>
</g>
<g id="dims">
<line x1="118" y1="223" x2="118" y2="334" stroke="#141414" stroke-width="1.0"/>
<line x1="441.5" y1="222.5" x2="441.5" y2="403" stroke="#141414" stroke-width="1.0"/>
<line x1="118" y1="233.8" x2="441.5" y2="233.8" stroke="#141414" stroke-width="1.0"/>
<polygon points="118.4,233.8 126.00,231.30 124.94,233.80 126.00,236.30" fill="#0a0a0a"/>
<polygon points="441.1,233.8 433.50,236.30 434.56,233.80 433.50,231.30" fill="#0a0a0a"/>
<line x1="77.5" y1="268.3" x2="403" y2="268.3" stroke="#141414" stroke-width="1.0"/>
<line x1="77.5" y1="517" x2="316.5" y2="517" stroke="#141414" stroke-width="1.0"/>
<line x1="88" y1="268.3" x2="88" y2="517" stroke="#141414" stroke-width="1.0"/>
<polygon points="88,268.7 90.50,276.30 88.00,275.24 85.50,276.30" fill="#0a0a0a"/>
<polygon points="88,516.6 85.50,509.00 88.00,510.06 90.50,509.00" fill="#0a0a0a"/>
<line x1="238" y1="301.4" x2="542.5" y2="301.4" stroke="#141414" stroke-width="1.0"/>
<line x1="197" y1="374.2" x2="542.5" y2="374.2" stroke="#141414" stroke-width="1.0"/>
<line x1="531.5" y1="301.5" x2="531.5" y2="374.3" stroke="#141414" stroke-width="1.0"/>
<polygon points="531.5,301.9 534.00,309.50 531.50,308.44 529.00,309.50" fill="#0a0a0a"/>
<polygon points="531.5,373.9 529.00,366.30 531.50,367.36 534.00,366.30" fill="#0a0a0a"/>
</g>
</svg>
</body></html>
